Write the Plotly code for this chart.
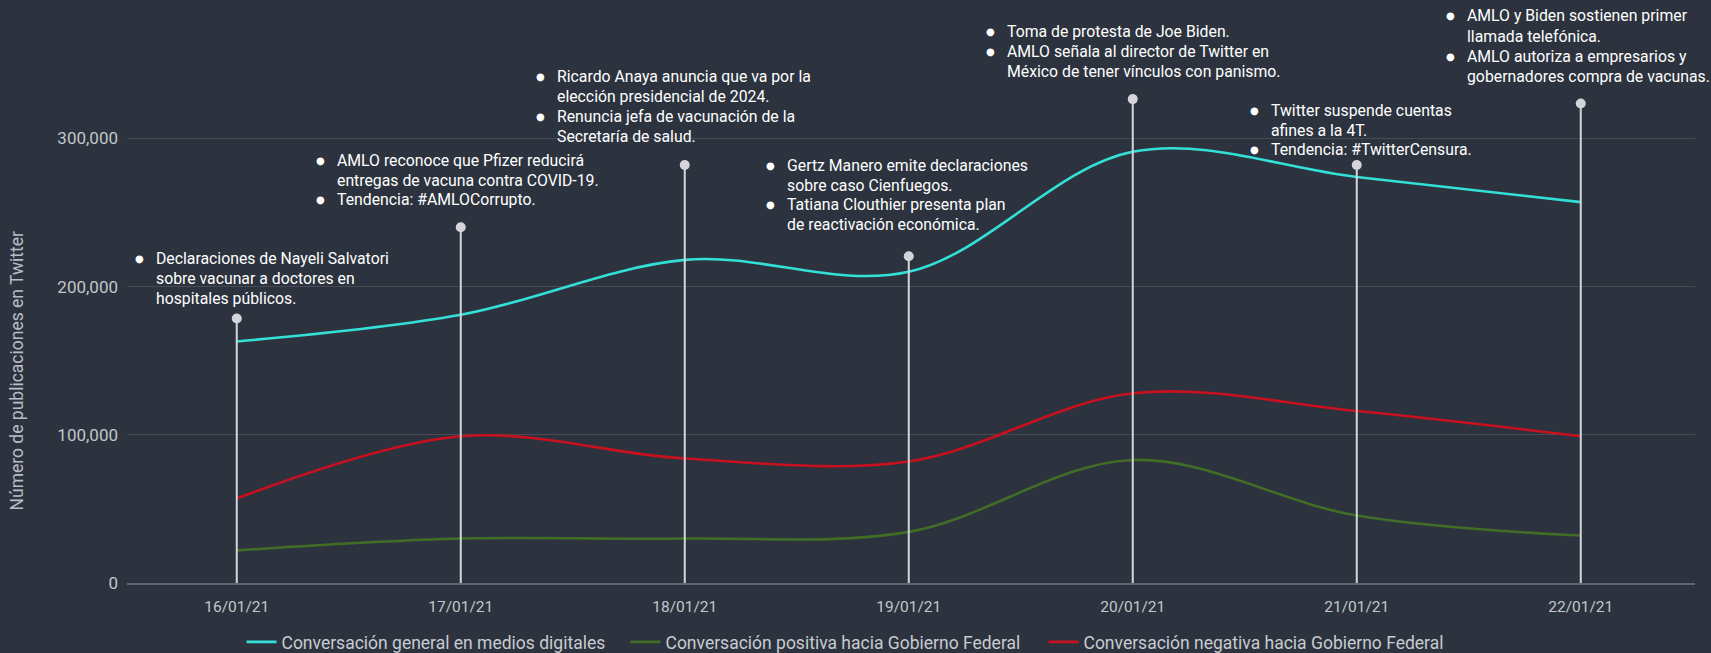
import plotly.graph_objects as go

# ---------------- data ----------------
dates = ["16/01/21", "17/01/21", "18/01/21", "19/01/21", "20/01/21", "21/01/21", "22/01/21"]
general = [163000, 181000, 218000, 210000, 291000, 274000, 257000]
positiva = [22000, 30000, 30000, 34500, 83000, 45500, 32000]
negativa = [57000, 99000, 84000, 82000, 128000, 116000, 99000]
event_marks = [178500, 240000, 282000, 220500, 326500, 282000, 323500]

series_names = [
    "Conversación general en medios digitales",
    "Conversación positiva hacia Gobierno Federal",
    "Conversación negativa hacia Gobierno Federal",
]

events = [
    [["Declaraciones de Nayeli Salvatori", "sobre vacunar a doctores en", "hospitales públicos."]],
    [["AMLO reconoce que Pfizer reducirá", "entregas de vacuna contra COVID-19."],
     ["Tendencia: #AMLOCorrupto."]],
    [["Ricardo Anaya anuncia que va por la", "elección presidencial de 2024."],
     ["Renuncia jefa de vacunación de la", "Secretaría de salud."]],
    [["Gertz Manero emite declaraciones", "sobre caso Cienfuegos."],
     ["Tatiana Clouthier presenta plan", "de reactivación económica."]],
    [["Toma de protesta de Joe Biden."],
     ["AMLO señala al director de Twitter en", "México de tener vínculos con panismo."]],
    [["Twitter suspende cuentas", "afines a la 4T."], ["Tendencia: #TwitterCensura."]],
    [["AMLO y Biden sostienen primer", "llamada telefónica."],
     ["AMLO autoriza a empresarios y", "gobernadores compra de vacunas."]],
]

# ---------------- layout geometry (pixels) ----------------
W, H = 1711, 653
ML, MR, MT, MB = 127, 16, 5, 70
PW, PH = W - ML - MR, H - MT - MB
BOTTOM = H - MB

text_x_px = [154, 335, 554.5, 785, 1004.5, 1268.5, 1465]
first_line_px = [258.3, 160, 76.7, 165, 31.7, 110, 16]
LINE_STEP = 20
BULLET_GAP = 14.5
legend_x_px = [241.5, 625.5, 1043.5]
LEGEND_Y_PX = 642


def px_x(p):
    return (p - ML) / PW


def px_y(p):
    return (BOTTOM - p) / PH


BG = "#2c333e"
COLORS = ["#33e0d8", "#416d26", "#c8101e"]
STEM = "#d3d5db"
TEXT = "#ffffff"
TICK = "#c3c6cc"
FONT = "Roboto"
legend_ids = ["legend", "legend2", "legend3"]

fig = go.Figure()
for name, vals, col, lg in zip(series_names, [general, positiva, negativa], COLORS, legend_ids):
    fig.add_trace(go.Scatter(
        x=dates, y=vals, name=name, mode="lines", legend=lg,
        line=dict(color=col, width=2.6, shape="spline", smoothing=1.0),
        hoverinfo="skip",
    ))

# stems
sx, sy = [], []
for d, v in zip(dates, event_marks):
    sx += [d, d, None]
    sy += [0, v, None]
fig.add_trace(go.Scatter(x=sx, y=sy, mode="lines", line=dict(color=STEM, width=2),
                         showlegend=False, hoverinfo="skip"))
fig.add_trace(go.Scatter(x=dates, y=event_marks, mode="markers",
                         marker=dict(color=STEM, size=10), showlegend=False, hoverinfo="skip"))

annotations = []
for ev, tx, fy in zip(events, text_x_px, first_line_px):
    line_i = 0
    for item in ev:
        for j, line in enumerate(item):
            ypx = fy + line_i * LINE_STEP
            if j == 0:
                annotations.append(dict(
                    x=px_x(tx - BULLET_GAP), y=px_y(ypx), xref="paper", yref="paper",
                    text="●", showarrow=False, xanchor="center", yanchor="middle",
                    font=dict(family="DejaVu Sans", size=10, color=TEXT)))
            annotations.append(dict(
                x=px_x(tx), y=px_y(ypx), xref="paper", yref="paper",
                text=line, showarrow=False, xanchor="left", yanchor="middle",
                font=dict(family=FONT, size=15.8, color=TEXT)))
            line_i += 1

annotations.append(dict(
    x=px_x(16), y=px_y(370.5), xref="paper", yref="paper",
    text="Número de publicaciones en Twitter", textangle=-90, showarrow=False,
    xanchor="center", yanchor="middle", font=dict(family=FONT, size=17.5, color="#b9bdc3")))

legend_style = dict(orientation="h", xanchor="left", yanchor="middle",
                    xref="container", yref="container",
                    font=dict(family=FONT, size=17.5, color="#c8cbd1"),
                    bgcolor="rgba(0,0,0,0)", itemwidth=30)

fig.update_layout(
    width=W, height=H,
    paper_bgcolor=BG, plot_bgcolor=BG,
    margin=dict(l=ML, r=MR, t=MT, b=MB, autoexpand=False),
    font=dict(family=FONT, color=TICK),
    showlegend=True,
    legend=dict(x=legend_x_px[0] / W, y=(H - LEGEND_Y_PX) / H, **legend_style),
    legend2=dict(x=legend_x_px[1] / W, y=(H - LEGEND_Y_PX) / H, **legend_style),
    legend3=dict(x=legend_x_px[2] / W, y=(H - LEGEND_Y_PX) / H, **legend_style),
    annotations=annotations,
    xaxis=dict(type="category", range=[-0.49, 6.51], showgrid=False, ticks="",
               showline=True, linecolor="#5b6676", linewidth=2,
               tickfont=dict(family=FONT, size=15.5, color=TICK), ticklabelstandoff=8,
               zeroline=False, fixedrange=True),
    yaxis=dict(range=[0, 390000], tickvals=[0, 100000, 200000, 300000],
               ticktext=["0", "100,000", "200,000", "300,000"],
               showgrid=True, gridcolor="#474c54", gridwidth=1, zeroline=False,
               tickfont=dict(family=FONT, size=17, color=TICK), ticks="", ticklabelstandoff=8,
               fixedrange=True),
)

fig.write_html("out.html", config={"displayModeBar": False},
               post_script="document.body.style.margin='0';document.body.style.background='" + BG + "';")
